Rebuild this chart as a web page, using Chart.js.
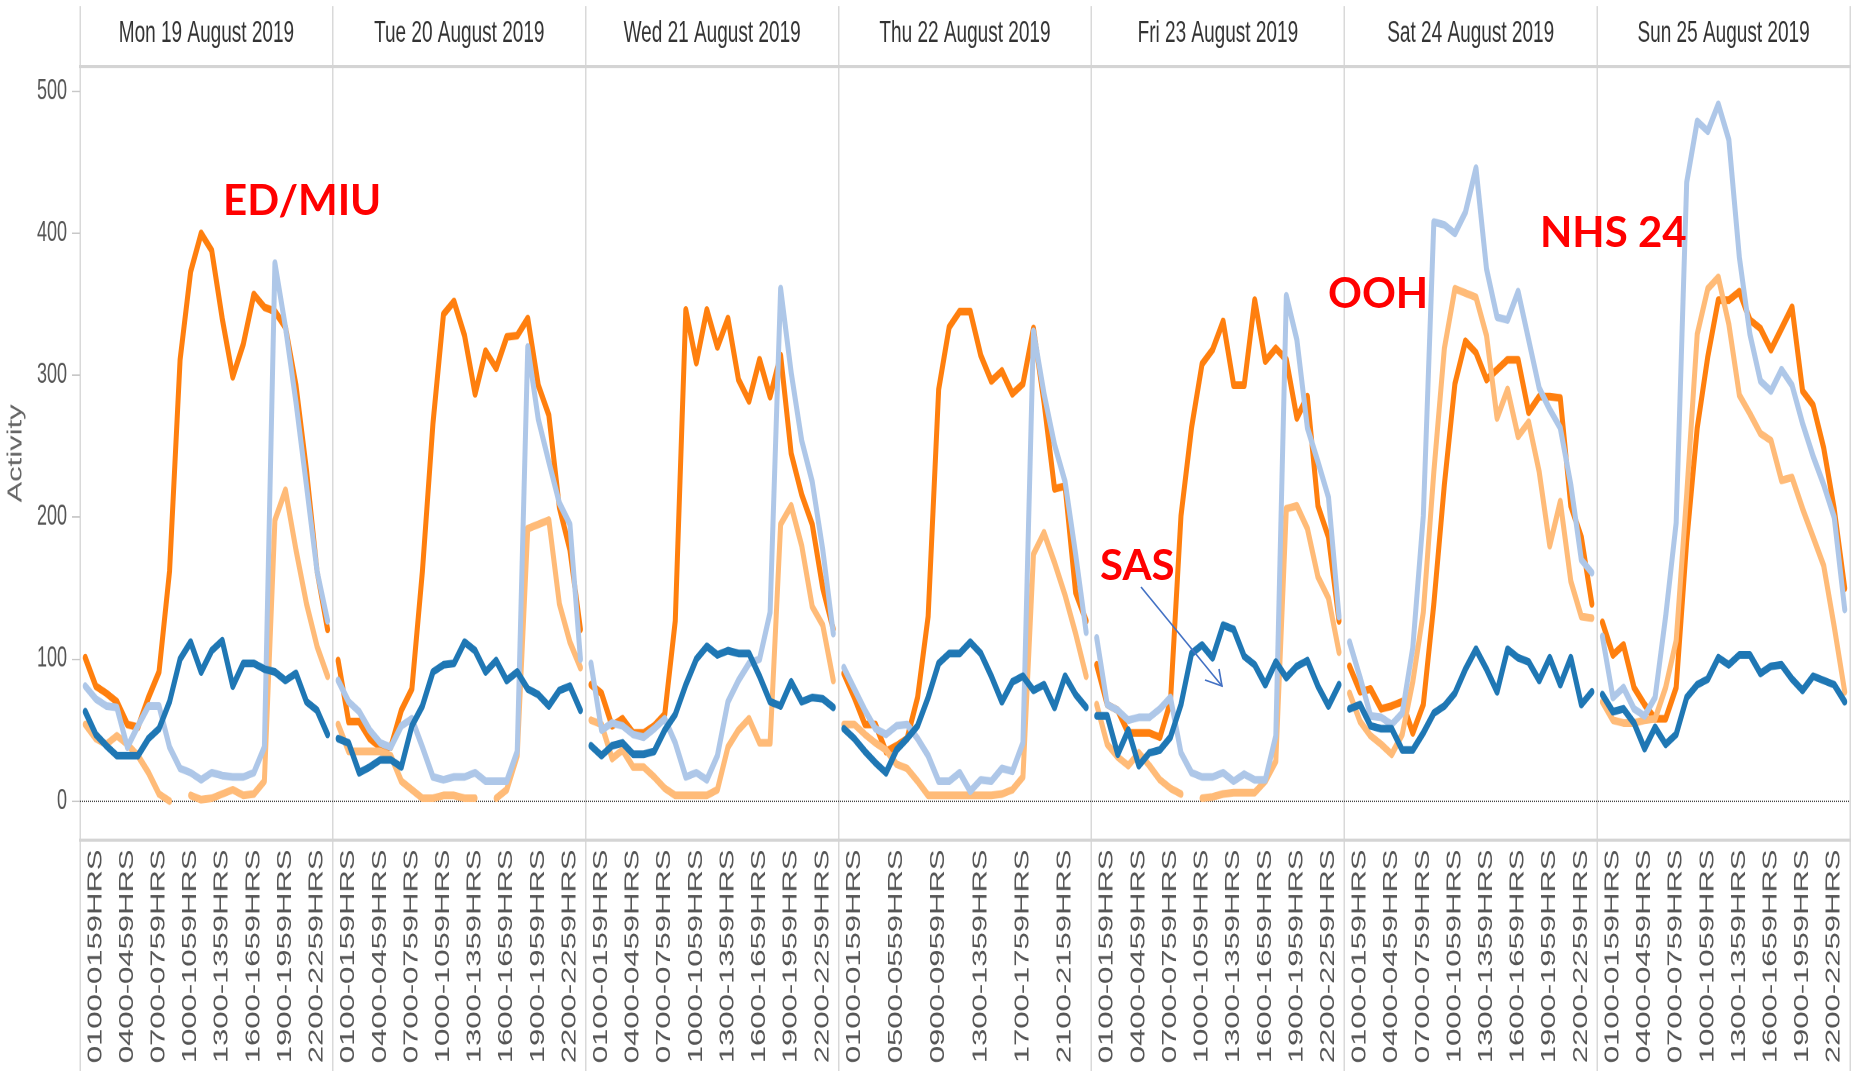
<!DOCTYPE html>
<html lang="en">
<head>
  <meta charset="UTF-8" />
  <title>Activity by hour, 19-25 August 2019</title>
  <script src="https://cdn.jsdelivr.net/npm/chart.js@4"></script>
  <style>
    html, body {
      margin: 0;
      padding: 0;
      background: #ffffff;
      overflow: hidden;
    }
    body {
      position: relative;
      width: 1856px;
      height: 1071px;
    }
    /* the source picture is a stretched export, so draw the chart short and stretch it */
    #wrap {
      position: absolute;
      left: 0;
      top: 0;
      width: 1856px;
      height: 691px;
      transform: scaleY(1.55);
      transform-origin: 0 0;
    }
    .note {
      position: absolute;
      color: #ff0000;
      font-family: Lato, "Open Sans", sans-serif;
      font-weight: 700;
      font-size: 42px;
      line-height: 1;
      white-space: nowrap;
    }
    #arrow {
      position: absolute;
      left: 0;
      top: 0;
    }
  </style>
</head>
<body>
  <div id="wrap"><canvas id="chart"></canvas></div>

  <div class="note" style="left:223px; top:178px;">ED/MIU</div>
  <div class="note" style="left:1328px; top:271px;">OOH</div>
  <div class="note" style="left:1540px; top:210px;">NHS 24</div>
  <div class="note" style="left:1100px; top:543px;">SAS</div>

  <svg id="arrow" width="1856" height="1071">
    <line x1="1141" y1="587" x2="1222" y2="686" stroke="#4472c4" stroke-width="1.6" />
    <polyline points="1205,680 1222,686 1219,669" fill="none" stroke="#4472c4" stroke-width="1.6" />
  </svg>

  <script>
    const dayLabels = [
      'Mon 19 August 2019', 'Tue 20 August 2019', 'Wed 21 August 2019', 'Thu 22 August 2019',
      'Fri 23 August 2019', 'Sat 24 August 2019', 'Sun 25 August 2019'
    ];

    const hourLabels = [
      '0000-0059HRS', '0100-0159HRS', '0200-0259HRS', '0300-0359HRS', '0400-0459HRS', '0500-0559HRS',
      '0600-0659HRS', '0700-0759HRS', '0800-0859HRS', '0900-0959HRS', '1000-1059HRS', '1100-1159HRS',
      '1200-1259HRS', '1300-1359HRS', '1400-1459HRS', '1500-1559HRS', '1600-1659HRS', '1700-1759HRS',
      '1800-1859HRS', '1900-1959HRS', '2000-2059HRS', '2100-2159HRS', '2200-2259HRS', '2300-2359HRS'
    ];

    // which hour labels Tableau printed under each day
    const shownHours = [
      [1, 4, 7, 10, 13, 16, 19, 22],
      [1, 4, 7, 10, 13, 16, 19, 22],
      [1, 4, 7, 10, 13, 16, 19, 22],
      [1, 5, 9, 13, 17, 21],
      [1, 4, 7, 10, 13, 16, 19, 22],
      [1, 4, 7, 10, 13, 16, 19, 22],
      [1, 4, 7, 10, 13, 16, 19, 22]
    ];

    const yTicks = [0, 100, 200, 300, 400, 500];

    // one row per day, 24 hourly values
    const edMiu = [
      101, 81, 76, 70, 54, 52, 73, 91, 162, 311, 373, 400, 388, 340, 299, 322, 357, 348, 345, 334, 293, 233, 162, 121,
      99, 56, 56, 44, 38, 38, 64, 79, 162, 266, 343, 352, 328, 287, 317, 305, 327, 328, 340, 293, 272, 207, 177, 121,
      82, 76, 53, 58, 48, 48, 53, 61, 127, 346, 309, 346, 320, 340, 297, 282, 311, 285, 314, 245, 216, 195, 150, 121,
      90, 73, 54, 54, 35, 39, 44, 73, 130, 290, 334, 345, 345, 314, 296, 303, 287, 294, 333, 281, 220, 222, 147, 127,
      96, 68, 64, 48, 48, 48, 45, 70, 201, 263, 308, 318, 338, 293, 293, 353, 310, 319, 311, 270, 285, 208, 186, 127,
      95, 77, 79, 65, 67, 70, 48, 68, 139, 223, 294, 324, 316, 297, 304, 311, 311, 274, 285, 285, 284, 208, 186, 139,
      126, 103, 110, 80, 68, 58, 58, 80, 183, 263, 313, 353, 353, 359, 339, 333, 318, 333, 348, 289, 279, 249, 206, 150
    ];

    const nhs24 = [
      81, 72, 67, 66, 38, 53, 67, 67, 38, 23, 20, 15, 20, 18, 17, 17, 20, 38, 379, 334, 281, 222, 162, 127,
      85, 70, 63, 50, 41, 38, 53, 58, 38, 17, 15, 17, 17, 20, 14, 14, 14, 35, 320, 269, 239, 210, 195, 100,
      97, 50, 55, 53, 47, 45, 51, 58, 41, 17, 20, 15, 32, 70, 85, 97, 100, 133, 361, 302, 254, 225, 177, 118,
      94, 79, 64, 51, 47, 53, 54, 44, 32, 14, 14, 20, 7, 15, 14, 23, 21, 41, 331, 287, 251, 225, 174, 119,
      115, 68, 64, 57, 59, 59, 65, 73, 34, 20, 17, 17, 20, 14, 19, 15, 15, 46, 356, 325, 263, 239, 214, 130,
      112, 87, 60, 59, 54, 62, 108, 201, 408, 406, 400, 415, 446, 375, 341, 339, 359, 325, 291, 276, 263, 223, 170, 161,
      116, 73, 80, 65, 60, 73, 130, 196, 436, 479, 472, 491, 466, 383, 329, 296, 289, 304, 293, 266, 243, 223, 200, 135
    ];

    const ooh = [
      54, 44, 40, 46, 40, 32, 20, 5, 0, null, 4, 1, 2, 5, 8, 4, 5, 14, 198, 219, 177, 139, 109, 88,
      54, 35, 35, 35, 35, 32, 14, 8, 2, 2, 4, 4, 2, 2, null, 2, 8, 32, 192, 195, 198, 139, 112, 94,
      57, 54, 30, 36, 24, 24, 17, 9, 4, 4, 4, 4, 8, 38, 50, 58, 41, 41, 195, 208, 180, 137, 124, 85,
      54, 54, 47, 41, 36, 26, 23, 14, 4, 4, 4, 4, 4, 4, 4, 5, 8, 17, 174, 189, 168, 145, 118, 88,
      68, 40, 31, 25, 34, 25, 15, 9, 5, null, 2, 3, 5, 6, 6, 6, 14, 28, 206, 208, 192, 158, 143, 105,
      76, 56, 46, 40, 33, 47, 84, 133, 232, 319, 361, 358, 355, 328, 270, 290, 257, 267, 232, 180, 211, 155, 130, 129,
      70, 57, 55, 55, 57, 58, 80, 113, 216, 329, 361, 369, 336, 286, 273, 259, 254, 226, 228, 206, 186, 166, 123, 77
    ];

    const sas = [
      63, 47, 39, 32, 32, 32, 44, 51, 70, 100, 112, 91, 106, 113, 81, 97, 97, 93, 91, 85, 90, 70, 64, 47,
      44, 41, 20, 24, 29, 29, 24, 53, 67, 91, 96, 97, 112, 106, 91, 99, 85, 91, 79, 75, 67, 78, 81, 64,
      39, 32, 39, 41, 33, 33, 35, 50, 61, 82, 100, 109, 103, 106, 104, 104, 88, 70, 67, 84, 70, 73, 72, 66,
      51, 44, 35, 27, 20, 36, 44, 53, 73, 97, 104, 104, 112, 104, 88, 70, 84, 88, 78, 82, 66, 88, 75, 66,
      60, 60, 33, 50, 25, 34, 36, 45, 68, 104, 110, 101, 124, 121, 102, 96, 82, 98, 87, 95, 99, 81, 67, 82,
      65, 68, 53, 51, 51, 36, 36, 48, 62, 67, 76, 93, 107, 93, 77, 107, 101, 98, 85, 101, 82, 101, 68, 77,
      75, 63, 65, 55, 37, 52, 40, 47, 73, 82, 86, 101, 96, 103, 103, 90, 95, 96, 86, 78, 88, 85, 82, 70
    ];

    const categories = dayLabels.flatMap(() => hourLabels);

    // day edges and day centres in hours, for the header axis
    const headerTicks = [];
    for (let h = 0; h <= dayLabels.length * 24; h += 12) headerTicks.push({ value: h });

    Chart.defaults.font.family = "'Liberation Sans', Arial, sans-serif";

    // each day is its own pane: do not join 23:00 to the next day's 00:00
    const lineStyle = {
      borderWidth: 5,
      pointRadius: 0,
      tension: 0,
      borderJoinStyle: 'round',
      borderCapStyle: 'round',
      spanGaps: false,
      segment: {
        borderColor: c => (c.p0DataIndex % 24 === 23 ? 'transparent' : undefined)
      }
    };

    const divider = '#d9d9d9';

    new Chart(document.getElementById('chart'), {
      type: 'line',
      data: {
        labels: categories,
        datasets: [
          { label: 'SAS', data: sas, borderColor: '#1f77b4', ...lineStyle },
          { label: 'NHS 24', data: nhs24, borderColor: '#aec7e8', ...lineStyle },
          { label: 'OOH', data: ooh, borderColor: '#ffbb78', ...lineStyle },
          { label: 'ED/MIU', data: edMiu, borderColor: '#ff7f0e', ...lineStyle }
        ]
      },
      options: {
        responsive: true,
        maintainAspectRatio: false,
        devicePixelRatio: 2,
        animation: false,
        layout: { padding: { left: 0, right: 6, top: 0, bottom: 0 } },
        plugins: {
          legend: { display: false },
          tooltip: { enabled: false }
        },
        scales: {
          x: {
            type: 'category',
            position: 'bottom',
            offset: true,
            grid: {
              offset: true,
              drawOnChartArea: false,
              tickLength: 149,
              lineWidth: 1.5,
              color: c => (c.type !== 'tick' || c.index % 24 === 0 ? divider : 'transparent')
            },
            border: { display: true, color: '#d4d4d4', width: 2 },
            ticks: {
              autoSkip: false,
              maxRotation: 90,
              minRotation: 90,
              padding: -143,
              color: '#555',
              font: { size: 20 },
              callback: (v, i) => (shownHours[Math.floor(i / 24)].includes(i % 24) ? hourLabels[i % 24] : '')
            },
            afterFit: s => { s.height = 149; }
          },
          xTop: {
            type: 'linear',
            position: 'top',
            min: 0,
            max: dayLabels.length * 24,
            afterBuildTicks: s => { s.ticks = headerTicks.map(t => ({ value: t.value })); },
            grid: {
              drawOnChartArea: true,
              tickLength: 39,
              lineWidth: 1.5,
              color: c => (c.tick && c.tick.value % 24 === 0 ? divider : 'transparent')
            },
            border: { display: true, color: '#d4d4d4', width: 2 },
            ticks: {
              autoSkip: false,
              maxRotation: 0,
              padding: -29,
              color: '#333',
              font: { size: 19 },
              callback: v => (v % 24 === 12 ? dayLabels[(v - 12) / 24] : '')
            },
            afterFit: s => { s.height = 43; }
          },
          y: {
            min: -27.5,
            max: 517.5,
            afterBuildTicks: s => { s.ticks = yTicks.map(v => ({ value: v })); },
            grid: {
              lineWidth: 1,
              color: c => (c.tick && c.tick.value === 0 ? '#444' : 'transparent'),
              tickColor: '#c8c8c8',
              tickLength: 8,
              tickBorderDash: []
            },
            border: { display: false, dash: [1, 1] },
            ticks: { padding: 5, color: '#555', font: { size: 18 } },
            title: {
              display: true,
              text: 'Activity',
              color: '#666',
              font: { size: 20 },
              padding: { top: 4, bottom: 0 }
            },
            afterFit: s => { s.width = 80; }
          }
        }
      }
    });
  </script>
</body>
</html>
